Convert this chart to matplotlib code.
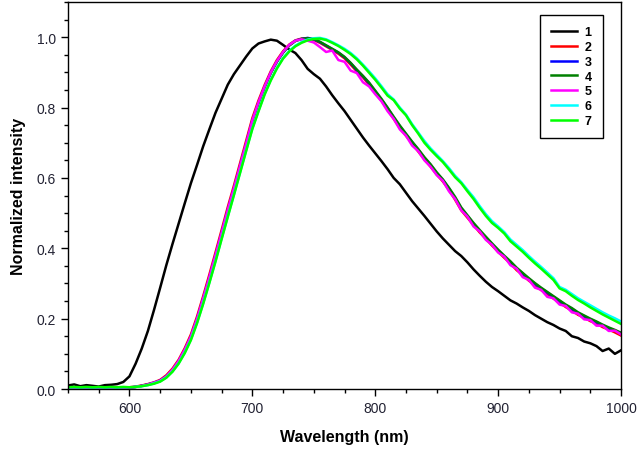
# normalized emission spectra, samples 1-7

import numpy as np
import matplotlib
matplotlib.use('Agg')
import matplotlib.pyplot as plt
from matplotlib.ticker import MultipleLocator

plt.rcParams['font.family'] = ['Liberation Sans', 'DejaVu Sans']

wavelength = np.arange(550, 1001, 5)

s1 = [0.010, 0.013, 0.008, 0.011, 0.009, 0.007, 0.011, 0.012, 0.014, 0.020,
      0.036, 0.072, 0.115, 0.165, 0.225, 0.288, 0.352, 0.412, 0.470, 0.528,
      0.585, 0.637, 0.690, 0.738, 0.785, 0.825, 0.865, 0.895, 0.920, 0.945,
      0.968, 0.982, 0.988, 0.993, 0.990, 0.978, 0.965, 0.955, 0.935, 0.910,
      0.895, 0.882, 0.860, 0.835, 0.812, 0.790, 0.765, 0.740, 0.715, 0.692,
      0.670, 0.648, 0.625, 0.600, 0.582, 0.558, 0.534, 0.513, 0.492, 0.470,
      0.448, 0.428, 0.410, 0.392, 0.378, 0.360, 0.340, 0.322, 0.305, 0.290,
      0.278, 0.265, 0.252, 0.243, 0.232, 0.222, 0.210, 0.200, 0.190, 0.182,
      0.172, 0.165, 0.150, 0.145, 0.135, 0.130, 0.122, 0.108, 0.115, 0.100, 0.110]

s2 = [0.003, 0.002, 0.004, 0.003, 0.002, 0.003, 0.004, 0.003, 0.003, 0.004,
      0.005, 0.007, 0.010, 0.014, 0.019, 0.026, 0.039, 0.058, 0.083, 0.116,
      0.155, 0.206, 0.264, 0.325, 0.388, 0.452, 0.517, 0.578, 0.642, 0.706,
      0.770, 0.820, 0.864, 0.903, 0.935, 0.960, 0.979, 0.991, 0.996, 0.997,
      0.992, 0.984, 0.974, 0.964, 0.953, 0.940, 0.922, 0.903, 0.886, 0.865,
      0.842, 0.820, 0.794, 0.768, 0.742, 0.720, 0.698, 0.675, 0.653, 0.632,
      0.610, 0.590, 0.566, 0.538, 0.508, 0.487, 0.466, 0.445, 0.427, 0.408,
      0.390, 0.373, 0.357, 0.338, 0.324, 0.308, 0.295, 0.281, 0.270, 0.257,
      0.246, 0.233, 0.223, 0.211, 0.203, 0.193, 0.186, 0.176, 0.169, 0.161, 0.152]

s3 = [0.002, 0.003, 0.002, 0.003, 0.003, 0.002, 0.003, 0.004, 0.003, 0.003,
      0.004, 0.006, 0.009, 0.013, 0.018, 0.024, 0.036, 0.054, 0.079, 0.111,
      0.149, 0.199, 0.257, 0.317, 0.380, 0.444, 0.509, 0.570, 0.634, 0.698,
      0.763, 0.814, 0.859, 0.899, 0.931, 0.957, 0.977, 0.990, 0.995, 0.998,
      0.994, 0.986, 0.976, 0.966, 0.956, 0.943, 0.926, 0.906, 0.889, 0.869,
      0.846, 0.823, 0.799, 0.772, 0.747, 0.724, 0.702, 0.680, 0.657, 0.637,
      0.614, 0.594, 0.570, 0.543, 0.513, 0.491, 0.470, 0.449, 0.430, 0.412,
      0.394, 0.377, 0.361, 0.343, 0.328, 0.313, 0.299, 0.286, 0.274, 0.262,
      0.250, 0.238, 0.228, 0.216, 0.207, 0.198, 0.190, 0.181, 0.173, 0.166, 0.158]

s4 = [0.003, 0.004, 0.003, 0.002, 0.003, 0.004, 0.003, 0.002, 0.004, 0.003,
      0.004, 0.006, 0.009, 0.013, 0.017, 0.023, 0.035, 0.053, 0.078, 0.110,
      0.148, 0.197, 0.255, 0.315, 0.378, 0.442, 0.507, 0.568, 0.632, 0.696,
      0.761, 0.812, 0.857, 0.898, 0.930, 0.956, 0.976, 0.989, 0.995, 0.997,
      0.995, 0.987, 0.977, 0.967, 0.957, 0.944, 0.927, 0.908, 0.890, 0.871,
      0.848, 0.825, 0.800, 0.774, 0.749, 0.726, 0.703, 0.682, 0.659, 0.639,
      0.616, 0.596, 0.572, 0.546, 0.516, 0.494, 0.472, 0.452, 0.433, 0.414,
      0.396, 0.379, 0.363, 0.345, 0.330, 0.315, 0.301, 0.288, 0.276, 0.264,
      0.252, 0.240, 0.230, 0.218, 0.209, 0.200, 0.192, 0.183, 0.175, 0.168, 0.160]

s5 = [0.001, 0.002, 0.001, 0.003, 0.002, 0.001, 0.003, 0.002, 0.002, 0.003,
      0.004, 0.006, 0.009, 0.013, 0.018, 0.024, 0.036, 0.055, 0.080, 0.112,
      0.150, 0.200, 0.258, 0.318, 0.381, 0.445, 0.510, 0.571, 0.635, 0.699,
      0.764, 0.815, 0.860, 0.900, 0.932, 0.958, 0.978, 0.990, 0.994, 0.990,
      0.985, 0.972, 0.958, 0.962, 0.935, 0.930, 0.905, 0.898, 0.872, 0.860,
      0.838, 0.818, 0.790, 0.768, 0.738, 0.720, 0.692, 0.676, 0.650, 0.632,
      0.608, 0.592, 0.562, 0.540, 0.508, 0.490, 0.462, 0.448, 0.424, 0.410,
      0.388, 0.376, 0.352, 0.342, 0.318, 0.310, 0.288, 0.282, 0.262, 0.258,
      0.240, 0.236, 0.218, 0.214, 0.198, 0.196, 0.180, 0.180, 0.165, 0.166, 0.155]

s6 = [0.004, 0.005, 0.004, 0.005, 0.004, 0.005, 0.004, 0.005, 0.004, 0.005,
      0.005, 0.006, 0.008, 0.011, 0.016, 0.022, 0.033, 0.050, 0.073, 0.104,
      0.141, 0.189, 0.244, 0.303, 0.364, 0.428, 0.491, 0.553, 0.616, 0.679,
      0.741, 0.791, 0.839, 0.879, 0.913, 0.941, 0.961, 0.976, 0.986, 0.993,
      0.997, 0.998, 0.994, 0.986, 0.977, 0.967, 0.955, 0.940, 0.922, 0.903,
      0.883, 0.861, 0.838, 0.823, 0.800, 0.780, 0.753, 0.729, 0.705, 0.684,
      0.666, 0.648, 0.628, 0.606, 0.588, 0.566, 0.545, 0.520, 0.497, 0.477,
      0.462, 0.446, 0.425, 0.410, 0.395, 0.378, 0.362, 0.347, 0.331, 0.315,
      0.290, 0.282, 0.270, 0.258, 0.248, 0.238, 0.228, 0.218, 0.209, 0.201, 0.192]

s7 = [0.005, 0.006, 0.005, 0.006, 0.005, 0.006, 0.005, 0.006, 0.005, 0.006,
      0.005, 0.006, 0.008, 0.011, 0.015, 0.021, 0.032, 0.049, 0.072, 0.102,
      0.139, 0.187, 0.242, 0.301, 0.362, 0.426, 0.489, 0.551, 0.614, 0.677,
      0.739, 0.789, 0.837, 0.877, 0.911, 0.939, 0.959, 0.974, 0.984, 0.991,
      0.995, 0.996, 0.992, 0.984, 0.975, 0.964, 0.952, 0.937, 0.919, 0.899,
      0.879, 0.857, 0.834, 0.821, 0.797, 0.778, 0.750, 0.726, 0.700, 0.680,
      0.662, 0.645, 0.624, 0.602, 0.585, 0.562, 0.540, 0.515, 0.492, 0.472,
      0.458, 0.442, 0.420, 0.405, 0.390, 0.373, 0.357, 0.342, 0.326, 0.310,
      0.286, 0.278, 0.265, 0.253, 0.243, 0.232, 0.222, 0.212, 0.203, 0.194, 0.185]

series = [s1, s2, s3, s4, s5, s6, s7]
labels = ['1', '2', '3', '4', '5', '6', '7']
colors = ['black', 'red', 'blue', 'green', 'magenta', 'cyan', 'lime']

fig = plt.figure(figsize=(6.38, 4.56), dpi=100)
ax = fig.add_axes([0.1066, 0.1447, 0.8668, 0.8487])

for y, lab, c in zip(series, labels, colors):
    ax.plot(wavelength, y, color=c, linewidth=1.8, label=lab)

ax.set(xlim=[550, 1000], ylim=[0, 1.1])
ax.set_xticks([600, 700, 800, 900, 1000])
ax.xaxis.set_minor_locator(MultipleLocator(25))
ax.set_yticks([0.0, 0.2, 0.4, 0.6, 0.8, 1.0])
ax.yaxis.set_minor_locator(MultipleLocator(0.05))
ax.tick_params(axis='both', which='both', direction='out', top=False, right=False,
               labelsize=10, labelcolor='#222233', width=1)
ax.tick_params(which='major', length=5)
ax.tick_params(which='minor', length=3)
for sp in ax.spines.values():
    sp.set_linewidth(1)

ax.set_xlabel('Wavelength (nm)', fontsize=11.5, fontweight='bold', labelpad=10)
ax.set_ylabel('Normalized intensity', fontsize=11.5, fontweight='bold', labelpad=8)

leg = ax.legend(loc='upper right', bbox_to_anchor=(0.9675, 0.966),
                prop={'weight': 'bold', 'size': 9}, fancybox=False, edgecolor='black',
                framealpha=1, handlelength=2.1, handletextpad=0.6, labelspacing=0.22,
                borderpad=0.9, borderaxespad=0)
leg.get_frame().set_linewidth(1)

plt.savefig('out.png', dpi=100)
plt.close()
